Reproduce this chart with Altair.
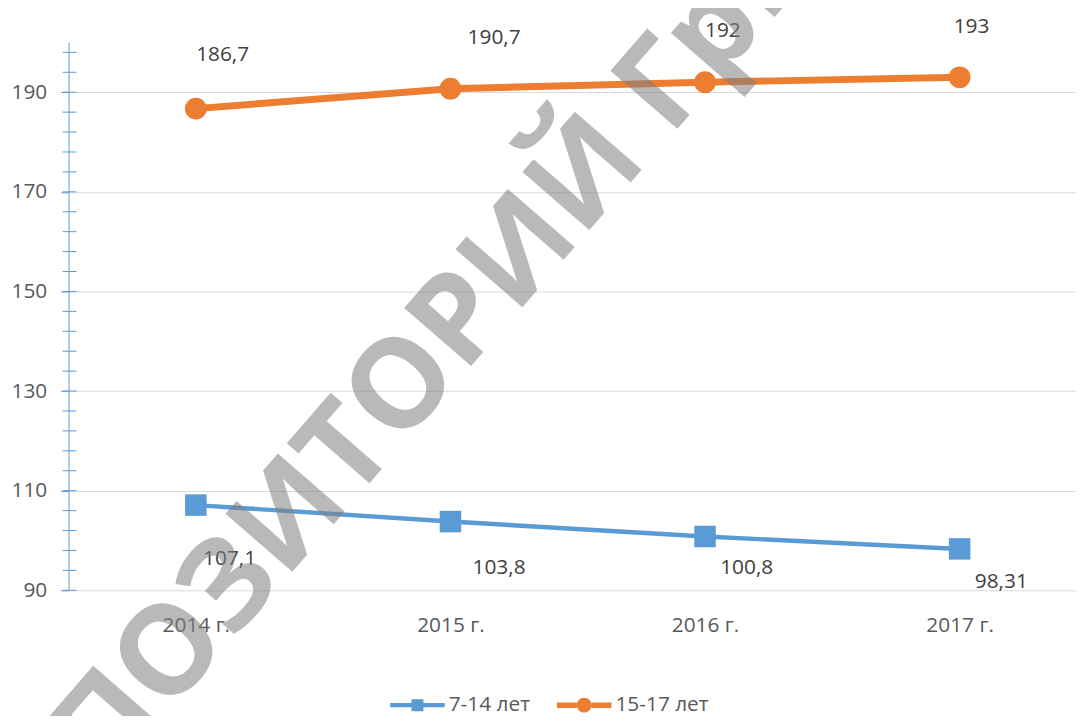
import altair as alt
import pandas as pd

# ---- data ----
years = ["2014 г.", "2015 г.", "2016 г.", "2017 г."]
series_names = ["7-14 лет", "15-17 лет"]
values_7_14 = [107.1, 103.8, 100.8, 98.31]
values_15_17 = [186.7, 190.7, 192, 193]
labels_7_14 = ["107,1", "103,8", "100,8", "98,31"]
labels_15_17 = ["186,7", "190,7", "192", "193"]
y_label_values = [90, 110, 130, 150, 170, 190]
y_tick_values = list(range(90, 200, 4))
watermark_text = "РЕПОЗИТОРИЙ ГрГУ"

# ---- styles (label placement offsets, colours) ----
offsets_7_14 = [(34, 54), (49, 47), (42, 32), (42, 33)]
offsets_15_17 = [(27, -54), (44, -51), (18, -52), (12, -51)]
BLUE = "#5B9BD5"
ORANGE = "#ED7D31"
FONT = "Open Sans"

rows = []
for name, vals, labs in [(series_names[0], values_7_14, labels_7_14),
                         (series_names[1], values_15_17, labels_15_17)]:
    for yr, v, lab in zip(years, vals, labs):
        rows.append({"year": yr, "value": v, "series": name, "label": lab})
df = pd.DataFrame(rows)

x_scale = alt.Scale(type="point", domain=years, range=[0, 1026], padding=0.5)
y_scale = alt.Scale(domain=[90, 200], nice=False, zero=False)
color_scale = alt.Scale(domain=series_names, range=[BLUE, ORANGE])

x_enc = alt.X("year:N", scale=x_scale, sort=years,
              axis=alt.Axis(title=None, domain=False, ticks=False, grid=False,
                            labelAngle=0, labelPadding=25))
y_enc = alt.Y("value:Q", scale=y_scale,
              axis=alt.Axis(title=None, values=y_label_values, grid=True,
                            gridColor="#D9D9D9", gridWidth=1,
                            domainColor=BLUE, domainWidth=1,
                            tickColor=BLUE, tickSize=8, labelPadding=14))
c_enc = alt.Color("series:N", scale=color_scale)

base = alt.Chart(df)

line_blue = base.transform_filter(alt.datum.series == series_names[0]).mark_line(
    strokeWidth=4.5, interpolate="monotone").encode(x=x_enc, y=y_enc, color=c_enc)
line_orange = base.transform_filter(alt.datum.series == series_names[1]).mark_line(
    strokeWidth=7).encode(x=x_enc, y=y_enc, color=c_enc)

points_blue = base.transform_filter(alt.datum.series == series_names[0]).mark_point(
    filled=True, opacity=1, size=470, shape="square").encode(x=x_enc, y=y_enc, color=c_enc)
points_orange = base.transform_filter(alt.datum.series == series_names[1]).mark_point(
    filled=True, opacity=1, size=480, shape="circle").encode(x=x_enc, y=y_enc, color=c_enc)

label_layers = []
for name, offs in [(series_names[0], offsets_7_14), (series_names[1], offsets_15_17)]:
    for yr, (dx, dy) in zip(years, offs):
        label_layers.append(
            base.transform_filter((alt.datum.series == name) & (alt.datum.year == yr))
            .mark_text(dx=dx, dy=dy, fontSize=21, font=FONT, color="#404040",
                       align="center", baseline="middle")
            .encode(x=x_enc, y=y_enc, text="label:N"))

ticks = alt.Chart(pd.DataFrame({"value": y_tick_values})).mark_rule(
    color=BLUE, strokeWidth=1).encode(
    y=y_enc, x=alt.value(-6), x2=alt.value(8))

watermark = alt.Chart(pd.DataFrame({"w": [watermark_text]})).mark_text(
    angle=311, fontSize=125, fontWeight="bold", font=FONT, color="#808080",
    opacity=0.55, align="center", baseline="middle").encode(
    text="w:N", x=alt.value(344), y=alt.value(339))

path_sq = ("M-1,-0.08L-0.22,-0.08L-0.22,0.08L-1,0.08Z "
           "M0.22,-0.08L1,-0.08L1,0.08L0.22,0.08Z "
           "M-0.22,-0.22L0.22,-0.22L0.22,0.22L-0.22,0.22Z")
path_circ = ("M-1,-0.1L-0.27,-0.1L-0.27,0.1L-1,0.1Z "
             "M0.27,-0.1L1,-0.1L1,0.1L0.27,0.1Z "
             "M0.27,0A0.27,0.27 0 1,1 -0.27,0A0.27,0.27 0 1,1 0.27,0Z")

legend_props = dict(title=None, orient="none", direction="horizontal",
                    legendX=324, legendY=640, symbolSize=3025, symbolStrokeWidth=0,
                    labelFontSize=21, labelFont=FONT, labelColor="#595959",
                    labelOffset=4, columnPadding=27, padding=0, symbolOpacity=1)

legend_layer = base.transform_filter("false").mark_point(filled=True, opacity=1).encode(
    x=x_enc, y=y_enc,
    color=alt.Color("series:N", scale=color_scale, legend=alt.Legend(**legend_props)),
    shape=alt.Shape("series:N", scale=alt.Scale(domain=series_names, range=[path_sq, path_circ]),
                    legend=alt.Legend(**legend_props)))

chart = alt.layer(
    line_blue, line_orange, points_blue, points_orange, ticks, *label_layers,
    watermark, legend_layer
).properties(
    width=1015, height=552,
    padding={"left": 61, "top": 32, "right": 0, "bottom": 124},
    autosize=alt.AutoSizeParams(type="none"),
).configure_view(stroke=None).configure_axis(
    labelFont=FONT, labelFontSize=21, labelColor="#595959"
)

chart.save("out.html", embed_options={"renderer": "svg", "actions": False})
